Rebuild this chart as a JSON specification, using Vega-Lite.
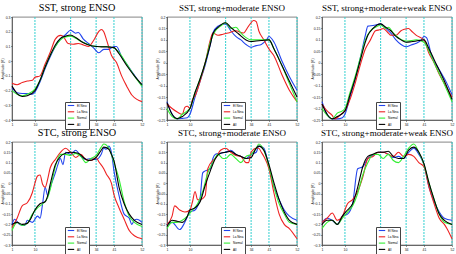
{
  "$schema": "https://vega.github.io/schema/vega-lite/v6.json",
  "background": "white",
  "padding": {"left": 0, "top": 2, "right": 0, "bottom": 0},
  "spacing": -3,
  "config": {
    "view": {"stroke": "#333", "strokeWidth": 0.6},
    "font": "Liberation Sans",
    "title": {"font": "Liberation Serif", "fontWeight": "normal", "color": "black", "fontSize": 10},
    "axis": {"grid": false, "labelFontSize": 3.5, "titleFontSize": 3.5, "titleFontWeight": "normal", "labelColor": "#222", "titleColor": "#222", "domainColor": "#333", "domainWidth": 0.6, "tickColor": "#333", "tickSize": 1.5, "tickWidth": 0.5, "labelPadding": 0.5, "titlePadding": 0.5, "labelOverlap": false, "labelFlush": false},
    "axisY": {"minExtent": 7, "maxExtent": 7},
    "axisX": {"minExtent": 5, "maxExtent": 5},
    "legend": {"title": null, "orient": "none", "symbolType": "M-3.2,0H3.2", "symbolSize": 4, "symbolStrokeWidth": 1.2, "symbolOffset": 2.5, "labelFontSize": 3, "rowPadding": 0.3, "padding": 1.5, "strokeColor": "#444", "fillColor": "white", "labelOffset": 4},
    "line": {"strokeWidth": 1.1, "interpolate": "monotone"},
    "rule": {"color": "#33d0d0", "strokeDash": [2, 1], "strokeWidth": 1}
  },
  "datasets": {
    "seasons": [{"w": 10}, {"w": 24}, {"w": 34}, {"w": 41}, {"w": 52}],
    "curves": [
      {"p":1,"s":"El Nino","w":1,"v":-0.18},{"p":1,"s":"El Nino","w":3,"v":-0.215},{"p":1,"s":"El Nino","w":5,"v":-0.22},{"p":1,"s":"El Nino","w":7,"v":-0.22},{"p":1,"s":"El Nino","w":9,"v":-0.225},{"p":1,"s":"El Nino","w":10,"v":-0.21},{"p":1,"s":"El Nino","w":12,"v":-0.14},{"p":1,"s":"El Nino","w":14,"v":-0.05},{"p":1,"s":"El Nino","w":16,"v":0.03},{"p":1,"s":"El Nino","w":18,"v":0.1},{"p":1,"s":"El Nino","w":20,"v":0.15},{"p":1,"s":"El Nino","w":22,"v":0.18},{"p":1,"s":"El Nino","w":24,"v":0.21},{"p":1,"s":"El Nino","w":25,"v":0.2},{"p":1,"s":"El Nino","w":26,"v":0.19},{"p":1,"s":"El Nino","w":27,"v":0.195},{"p":1,"s":"El Nino","w":29,"v":0.15},{"p":1,"s":"El Nino","w":31,"v":0.12},{"p":1,"s":"El Nino","w":33,"v":0.09},{"p":1,"s":"El Nino","w":35,"v":0.057},{"p":1,"s":"El Nino","w":37,"v":0.08},{"p":1,"s":"El Nino","w":39,"v":0.08},{"p":1,"s":"El Nino","w":41,"v":0.1},{"p":1,"s":"El Nino","w":42,"v":0.1},{"p":1,"s":"El Nino","w":44,"v":0.03},{"p":1,"s":"El Nino","w":46,"v":-0.02},{"p":1,"s":"El Nino","w":48,"v":-0.07},{"p":1,"s":"El Nino","w":50,"v":-0.12},{"p":1,"s":"El Nino","w":52,"v":-0.17},
      {"p":1,"s":"La Nina","w":1,"v":-0.15},{"p":1,"s":"La Nina","w":3,"v":-0.16},{"p":1,"s":"La Nina","w":5,"v":-0.145},{"p":1,"s":"La Nina","w":7,"v":-0.135},{"p":1,"s":"La Nina","w":9,"v":-0.13},{"p":1,"s":"La Nina","w":10,"v":-0.11},{"p":1,"s":"La Nina","w":12,"v":-0.1},{"p":1,"s":"La Nina","w":14,"v":-0.02},{"p":1,"s":"La Nina","w":16,"v":0.06},{"p":1,"s":"La Nina","w":18,"v":0.15},{"p":1,"s":"La Nina","w":20,"v":0.175},{"p":1,"s":"La Nina","w":21,"v":0.17},{"p":1,"s":"La Nina","w":23,"v":0.12},{"p":1,"s":"La Nina","w":25,"v":0.115},{"p":1,"s":"La Nina","w":27,"v":0.12},{"p":1,"s":"La Nina","w":29,"v":0.11},{"p":1,"s":"La Nina","w":31,"v":0.1},{"p":1,"s":"La Nina","w":33,"v":0.14},{"p":1,"s":"La Nina","w":35,"v":0.2},{"p":1,"s":"La Nina","w":36,"v":0.215},{"p":1,"s":"La Nina","w":37,"v":0.2},{"p":1,"s":"La Nina","w":38,"v":0.15},{"p":1,"s":"La Nina","w":40,"v":0.04},{"p":1,"s":"La Nina","w":42,"v":-0.01},{"p":1,"s":"La Nina","w":44,"v":-0.1},{"p":1,"s":"La Nina","w":46,"v":-0.17},{"p":1,"s":"La Nina","w":48,"v":-0.23},{"p":1,"s":"La Nina","w":50,"v":-0.26},{"p":1,"s":"La Nina","w":52,"v":-0.275},
      {"p":1,"s":"Normal","w":1,"v":-0.2},{"p":1,"s":"Normal","w":3,"v":-0.225},{"p":1,"s":"Normal","w":5,"v":-0.235},{"p":1,"s":"Normal","w":7,"v":-0.225},{"p":1,"s":"Normal","w":10,"v":-0.19},{"p":1,"s":"Normal","w":12,"v":-0.13},{"p":1,"s":"Normal","w":14,"v":-0.04},{"p":1,"s":"Normal","w":16,"v":0.04},{"p":1,"s":"Normal","w":18,"v":0.1},{"p":1,"s":"Normal","w":20,"v":0.145},{"p":1,"s":"Normal","w":22,"v":0.165},{"p":1,"s":"Normal","w":24,"v":0.17},{"p":1,"s":"Normal","w":26,"v":0.155},{"p":1,"s":"Normal","w":28,"v":0.135},{"p":1,"s":"Normal","w":30,"v":0.12},{"p":1,"s":"Normal","w":34,"v":0.1},{"p":1,"s":"Normal","w":38,"v":0.1},{"p":1,"s":"Normal","w":41,"v":0.09},{"p":1,"s":"Normal","w":43,"v":0.06},{"p":1,"s":"Normal","w":46,"v":-0.02},{"p":1,"s":"Normal","w":49,"v":-0.1},{"p":1,"s":"Normal","w":52,"v":-0.17},
      {"p":1,"s":"All","w":1,"v":-0.17},{"p":1,"s":"All","w":3,"v":-0.22},{"p":1,"s":"All","w":5,"v":-0.24},{"p":1,"s":"All","w":7,"v":-0.235},{"p":1,"s":"All","w":10,"v":-0.2},{"p":1,"s":"All","w":12,"v":-0.13},{"p":1,"s":"All","w":14,"v":-0.04},{"p":1,"s":"All","w":16,"v":0.04},{"p":1,"s":"All","w":18,"v":0.11},{"p":1,"s":"All","w":20,"v":0.155},{"p":1,"s":"All","w":22,"v":0.17},{"p":1,"s":"All","w":24,"v":0.178},{"p":1,"s":"All","w":26,"v":0.16},{"p":1,"s":"All","w":29,"v":0.125},{"p":1,"s":"All","w":32,"v":0.105},{"p":1,"s":"All","w":34,"v":0.1},{"p":1,"s":"All","w":36,"v":0.097},{"p":1,"s":"All","w":38,"v":0.097},{"p":1,"s":"All","w":41,"v":0.092},{"p":1,"s":"All","w":43,"v":0.05},{"p":1,"s":"All","w":46,"v":-0.03},{"p":1,"s":"All","w":49,"v":-0.1},{"p":1,"s":"All","w":52,"v":-0.16},

      {"p":2,"s":"El Nino","w":1,"v":-0.17},{"p":2,"s":"El Nino","w":3,"v":-0.225},{"p":2,"s":"El Nino","w":5,"v":-0.245},{"p":2,"s":"El Nino","w":7,"v":-0.243},{"p":2,"s":"El Nino","w":9,"v":-0.24},{"p":2,"s":"El Nino","w":10,"v":-0.225},{"p":2,"s":"El Nino","w":12,"v":-0.15},{"p":2,"s":"El Nino","w":14,"v":-0.08},{"p":2,"s":"El Nino","w":16,"v":-0.01},{"p":2,"s":"El Nino","w":18,"v":0.08},{"p":2,"s":"El Nino","w":19,"v":0.13},{"p":2,"s":"El Nino","w":21,"v":0.16},{"p":2,"s":"El Nino","w":23,"v":0.168},{"p":2,"s":"El Nino","w":24,"v":0.17},{"p":2,"s":"El Nino","w":26,"v":0.14},{"p":2,"s":"El Nino","w":28,"v":0.115},{"p":2,"s":"El Nino","w":30,"v":0.1},{"p":2,"s":"El Nino","w":32,"v":0.08},{"p":2,"s":"El Nino","w":34,"v":0.068},{"p":2,"s":"El Nino","w":36,"v":0.075},{"p":2,"s":"El Nino","w":38,"v":0.08},{"p":2,"s":"El Nino","w":40,"v":0.1},{"p":2,"s":"El Nino","w":41,"v":0.115},{"p":2,"s":"El Nino","w":43,"v":0.09},{"p":2,"s":"El Nino","w":46,"v":0.01},{"p":2,"s":"El Nino","w":49,"v":-0.06},{"p":2,"s":"El Nino","w":52,"v":-0.12},
      {"p":2,"s":"La Nina","w":1,"v":-0.18},{"p":2,"s":"La Nina","w":3,"v":-0.2},{"p":2,"s":"La Nina","w":5,"v":-0.215},{"p":2,"s":"La Nina","w":7,"v":-0.225},{"p":2,"s":"La Nina","w":8,"v":-0.195},{"p":2,"s":"La Nina","w":9,"v":-0.19},{"p":2,"s":"La Nina","w":10,"v":-0.2},{"p":2,"s":"La Nina","w":11,"v":-0.16},{"p":2,"s":"La Nina","w":12,"v":-0.145},{"p":2,"s":"La Nina","w":14,"v":-0.08},{"p":2,"s":"La Nina","w":16,"v":0.0},{"p":2,"s":"La Nina","w":18,"v":0.1},{"p":2,"s":"La Nina","w":19,"v":0.13},{"p":2,"s":"La Nina","w":21,"v":0.12},{"p":2,"s":"La Nina","w":23,"v":0.125},{"p":2,"s":"La Nina","w":25,"v":0.13},{"p":2,"s":"La Nina","w":28,"v":0.14},{"p":2,"s":"La Nina","w":31,"v":0.13},{"p":2,"s":"La Nina","w":33,"v":0.16},{"p":2,"s":"La Nina","w":35,"v":0.185},{"p":2,"s":"La Nina","w":36,"v":0.18},{"p":2,"s":"La Nina","w":37,"v":0.14},{"p":2,"s":"La Nina","w":39,"v":0.1},{"p":2,"s":"La Nina","w":41,"v":0.06},{"p":2,"s":"La Nina","w":43,"v":0.03},{"p":2,"s":"La Nina","w":46,"v":-0.05},{"p":2,"s":"La Nina","w":49,"v":-0.12},{"p":2,"s":"La Nina","w":52,"v":-0.17},
      {"p":2,"s":"Normal","w":1,"v":-0.2},{"p":2,"s":"Normal","w":3,"v":-0.235},{"p":2,"s":"Normal","w":5,"v":-0.245},{"p":2,"s":"Normal","w":7,"v":-0.225},{"p":2,"s":"Normal","w":9,"v":-0.21},{"p":2,"s":"Normal","w":10,"v":-0.2},{"p":2,"s":"Normal","w":12,"v":-0.13},{"p":2,"s":"Normal","w":14,"v":-0.07},{"p":2,"s":"Normal","w":16,"v":0.0},{"p":2,"s":"Normal","w":18,"v":0.09},{"p":2,"s":"Normal","w":20,"v":0.14},{"p":2,"s":"Normal","w":22,"v":0.16},{"p":2,"s":"Normal","w":24,"v":0.175},{"p":2,"s":"Normal","w":26,"v":0.15},{"p":2,"s":"Normal","w":28,"v":0.155},{"p":2,"s":"Normal","w":30,"v":0.13},{"p":2,"s":"Normal","w":32,"v":0.11},{"p":2,"s":"Normal","w":34,"v":0.1},{"p":2,"s":"Normal","w":36,"v":0.1},{"p":2,"s":"Normal","w":38,"v":0.1},{"p":2,"s":"Normal","w":41,"v":0.1},{"p":2,"s":"Normal","w":43,"v":0.06},{"p":2,"s":"Normal","w":46,"v":-0.01},{"p":2,"s":"Normal","w":49,"v":-0.09},{"p":2,"s":"Normal","w":52,"v":-0.17},
      {"p":2,"s":"All","w":1,"v":-0.174},{"p":2,"s":"All","w":3,"v":-0.225},{"p":2,"s":"All","w":5,"v":-0.244},{"p":2,"s":"All","w":7,"v":-0.235},{"p":2,"s":"All","w":10,"v":-0.2},{"p":2,"s":"All","w":12,"v":-0.13},{"p":2,"s":"All","w":14,"v":-0.07},{"p":2,"s":"All","w":16,"v":0.0},{"p":2,"s":"All","w":18,"v":0.08},{"p":2,"s":"All","w":19,"v":0.127},{"p":2,"s":"All","w":21,"v":0.155},{"p":2,"s":"All","w":24,"v":0.175},{"p":2,"s":"All","w":26,"v":0.155},{"p":2,"s":"All","w":29,"v":0.127},{"p":2,"s":"All","w":32,"v":0.1},{"p":2,"s":"All","w":34,"v":0.093},{"p":2,"s":"All","w":36,"v":0.095},{"p":2,"s":"All","w":38,"v":0.097},{"p":2,"s":"All","w":41,"v":0.1},{"p":2,"s":"All","w":43,"v":0.06},{"p":2,"s":"All","w":46,"v":-0.01},{"p":2,"s":"All","w":49,"v":-0.08},{"p":2,"s":"All","w":52,"v":-0.15},

      {"p":3,"s":"El Nino","w":1,"v":-0.17},{"p":3,"s":"El Nino","w":3,"v":-0.225},{"p":3,"s":"El Nino","w":5,"v":-0.245},{"p":3,"s":"El Nino","w":7,"v":-0.245},{"p":3,"s":"El Nino","w":9,"v":-0.24},{"p":3,"s":"El Nino","w":10,"v":-0.225},{"p":3,"s":"El Nino","w":12,"v":-0.15},{"p":3,"s":"El Nino","w":14,"v":-0.07},{"p":3,"s":"El Nino","w":16,"v":0.02},{"p":3,"s":"El Nino","w":18,"v":0.12},{"p":3,"s":"El Nino","w":19,"v":0.16},{"p":3,"s":"El Nino","w":21,"v":0.163},{"p":3,"s":"El Nino","w":22,"v":0.165},{"p":3,"s":"El Nino","w":24,"v":0.17},{"p":3,"s":"El Nino","w":26,"v":0.15},{"p":3,"s":"El Nino","w":28,"v":0.13},{"p":3,"s":"El Nino","w":30,"v":0.1},{"p":3,"s":"El Nino","w":32,"v":0.08},{"p":3,"s":"El Nino","w":34,"v":0.07},{"p":3,"s":"El Nino","w":36,"v":0.078},{"p":3,"s":"El Nino","w":38,"v":0.085},{"p":3,"s":"El Nino","w":40,"v":0.1},{"p":3,"s":"El Nino","w":41,"v":0.115},{"p":3,"s":"El Nino","w":42,"v":0.11},{"p":3,"s":"El Nino","w":44,"v":0.03},{"p":3,"s":"El Nino","w":47,"v":-0.03},{"p":3,"s":"El Nino","w":50,"v":-0.09},{"p":3,"s":"El Nino","w":52,"v":-0.14},
      {"p":3,"s":"La Nina","w":1,"v":-0.18},{"p":3,"s":"La Nina","w":3,"v":-0.21},{"p":3,"s":"La Nina","w":5,"v":-0.23},{"p":3,"s":"La Nina","w":6,"v":-0.245},{"p":3,"s":"La Nina","w":8,"v":-0.23},{"p":3,"s":"La Nina","w":9,"v":-0.22},{"p":3,"s":"La Nina","w":10,"v":-0.21},{"p":3,"s":"La Nina","w":12,"v":-0.16},{"p":3,"s":"La Nina","w":14,"v":-0.09},{"p":3,"s":"La Nina","w":16,"v":-0.01},{"p":3,"s":"La Nina","w":18,"v":0.06},{"p":3,"s":"La Nina","w":20,"v":0.1},{"p":3,"s":"La Nina","w":22,"v":0.14},{"p":3,"s":"La Nina","w":24,"v":0.145},{"p":3,"s":"La Nina","w":25,"v":0.15},{"p":3,"s":"La Nina","w":27,"v":0.13},{"p":3,"s":"La Nina","w":28,"v":0.12},{"p":3,"s":"La Nina","w":30,"v":0.12},{"p":3,"s":"La Nina","w":32,"v":0.14},{"p":3,"s":"La Nina","w":33,"v":0.145},{"p":3,"s":"La Nina","w":35,"v":0.15},{"p":3,"s":"La Nina","w":36,"v":0.14},{"p":3,"s":"La Nina","w":38,"v":0.12},{"p":3,"s":"La Nina","w":41,"v":0.1},{"p":3,"s":"La Nina","w":43,"v":0.04},{"p":3,"s":"La Nina","w":45,"v":0.0},{"p":3,"s":"La Nina","w":47,"v":-0.05},{"p":3,"s":"La Nina","w":50,"v":-0.11},{"p":3,"s":"La Nina","w":52,"v":-0.15},
      {"p":3,"s":"Normal","w":1,"v":-0.2},{"p":3,"s":"Normal","w":3,"v":-0.23},{"p":3,"s":"Normal","w":5,"v":-0.245},{"p":3,"s":"Normal","w":7,"v":-0.22},{"p":3,"s":"Normal","w":9,"v":-0.21},{"p":3,"s":"Normal","w":10,"v":-0.2},{"p":3,"s":"Normal","w":12,"v":-0.13},{"p":3,"s":"Normal","w":14,"v":-0.06},{"p":3,"s":"Normal","w":16,"v":0.02},{"p":3,"s":"Normal","w":18,"v":0.1},{"p":3,"s":"Normal","w":20,"v":0.14},{"p":3,"s":"Normal","w":22,"v":0.155},{"p":3,"s":"Normal","w":24,"v":0.165},{"p":3,"s":"Normal","w":26,"v":0.15},{"p":3,"s":"Normal","w":27,"v":0.155},{"p":3,"s":"Normal","w":29,"v":0.13},{"p":3,"s":"Normal","w":31,"v":0.11},{"p":3,"s":"Normal","w":34,"v":0.095},{"p":3,"s":"Normal","w":36,"v":0.097},{"p":3,"s":"Normal","w":38,"v":0.1},{"p":3,"s":"Normal","w":41,"v":0.09},{"p":3,"s":"Normal","w":43,"v":0.05},{"p":3,"s":"Normal","w":45,"v":0.0},{"p":3,"s":"Normal","w":48,"v":-0.07},{"p":3,"s":"Normal","w":52,"v":-0.17},
      {"p":3,"s":"All","w":1,"v":-0.18},{"p":3,"s":"All","w":3,"v":-0.225},{"p":3,"s":"All","w":5,"v":-0.245},{"p":3,"s":"All","w":7,"v":-0.235},{"p":3,"s":"All","w":10,"v":-0.21},{"p":3,"s":"All","w":12,"v":-0.14},{"p":3,"s":"All","w":14,"v":-0.07},{"p":3,"s":"All","w":16,"v":0.01},{"p":3,"s":"All","w":18,"v":0.09},{"p":3,"s":"All","w":19,"v":0.12},{"p":3,"s":"All","w":21,"v":0.15},{"p":3,"s":"All","w":24,"v":0.17},{"p":3,"s":"All","w":26,"v":0.155},{"p":3,"s":"All","w":28,"v":0.14},{"p":3,"s":"All","w":30,"v":0.115},{"p":3,"s":"All","w":32,"v":0.1},{"p":3,"s":"All","w":34,"v":0.09},{"p":3,"s":"All","w":36,"v":0.092},{"p":3,"s":"All","w":38,"v":0.095},{"p":3,"s":"All","w":41,"v":0.1},{"p":3,"s":"All","w":43,"v":0.06},{"p":3,"s":"All","w":46,"v":-0.01},{"p":3,"s":"All","w":49,"v":-0.08},{"p":3,"s":"All","w":52,"v":-0.16},

      {"p":4,"s":"El Nino","w":1,"v":-0.2},{"p":4,"s":"El Nino","w":2,"v":-0.175},{"p":4,"s":"El Nino","w":4,"v":-0.2},{"p":4,"s":"El Nino","w":6,"v":-0.205},{"p":4,"s":"El Nino","w":7,"v":-0.18},{"p":4,"s":"El Nino","w":9,"v":-0.19},{"p":4,"s":"El Nino","w":11,"v":-0.16},{"p":4,"s":"El Nino","w":12,"v":-0.17},{"p":4,"s":"El Nino","w":13,"v":-0.1},{"p":4,"s":"El Nino","w":14,"v":-0.02},{"p":4,"s":"El Nino","w":15,"v":-0.06},{"p":4,"s":"El Nino","w":16,"v":-0.02},{"p":4,"s":"El Nino","w":18,"v":0.05},{"p":4,"s":"El Nino","w":19,"v":0.09},{"p":4,"s":"El Nino","w":20,"v":0.12},{"p":4,"s":"El Nino","w":21,"v":0.09},{"p":4,"s":"El Nino","w":22,"v":0.15},{"p":4,"s":"El Nino","w":24,"v":0.14},{"p":4,"s":"El Nino","w":26,"v":0.16},{"p":4,"s":"El Nino","w":28,"v":0.13},{"p":4,"s":"El Nino","w":30,"v":0.115},{"p":4,"s":"El Nino","w":32,"v":0.12},{"p":4,"s":"El Nino","w":34,"v":0.115},{"p":4,"s":"El Nino","w":36,"v":0.14},{"p":4,"s":"El Nino","w":37,"v":0.17},{"p":4,"s":"El Nino","w":38,"v":0.165},{"p":4,"s":"El Nino","w":39,"v":0.18},{"p":4,"s":"El Nino","w":40,"v":0.15},{"p":4,"s":"El Nino","w":41,"v":0.06},{"p":4,"s":"El Nino","w":43,"v":-0.06},{"p":4,"s":"El Nino","w":45,"v":-0.15},{"p":4,"s":"El Nino","w":47,"v":-0.17},{"p":4,"s":"El Nino","w":48,"v":-0.2},{"p":4,"s":"El Nino","w":49,"v":-0.18},{"p":4,"s":"El Nino","w":50,"v":-0.175},{"p":4,"s":"El Nino","w":52,"v":-0.19},
      {"p":4,"s":"La Nina","w":1,"v":-0.215},{"p":4,"s":"La Nina","w":3,"v":-0.17},{"p":4,"s":"La Nina","w":5,"v":-0.11},{"p":4,"s":"La Nina","w":7,"v":-0.095},{"p":4,"s":"La Nina","w":9,"v":-0.045},{"p":4,"s":"La Nina","w":10,"v":0.0},{"p":4,"s":"La Nina","w":11,"v":0.035},{"p":4,"s":"La Nina","w":12,"v":0.04},{"p":4,"s":"La Nina","w":13,"v":-0.005},{"p":4,"s":"La Nina","w":14,"v":-0.02},{"p":4,"s":"La Nina","w":15,"v":0.02},{"p":4,"s":"La Nina","w":16,"v":0.075},{"p":4,"s":"La Nina","w":18,"v":0.115},{"p":4,"s":"La Nina","w":20,"v":0.15},{"p":4,"s":"La Nina","w":22,"v":0.17},{"p":4,"s":"La Nina","w":24,"v":0.15},{"p":4,"s":"La Nina","w":26,"v":0.125},{"p":4,"s":"La Nina","w":28,"v":0.14},{"p":4,"s":"La Nina","w":30,"v":0.115},{"p":4,"s":"La Nina","w":32,"v":0.11},{"p":4,"s":"La Nina","w":34,"v":0.125},{"p":4,"s":"La Nina","w":35,"v":0.105},{"p":4,"s":"La Nina","w":37,"v":0.07},{"p":4,"s":"La Nina","w":38,"v":0.045},{"p":4,"s":"La Nina","w":40,"v":0.0},{"p":4,"s":"La Nina","w":41,"v":-0.055},{"p":4,"s":"La Nina","w":43,"v":-0.12},{"p":4,"s":"La Nina","w":45,"v":-0.175},{"p":4,"s":"La Nina","w":47,"v":-0.23},{"p":4,"s":"La Nina","w":49,"v":-0.255},{"p":4,"s":"La Nina","w":52,"v":-0.27},
      {"p":4,"s":"Normal","w":1,"v":-0.23},{"p":4,"s":"Normal","w":3,"v":-0.19},{"p":4,"s":"Normal","w":5,"v":-0.205},{"p":4,"s":"Normal","w":7,"v":-0.195},{"p":4,"s":"Normal","w":9,"v":-0.15},{"p":4,"s":"Normal","w":11,"v":-0.12},{"p":4,"s":"Normal","w":13,"v":-0.1},{"p":4,"s":"Normal","w":15,"v":-0.07},{"p":4,"s":"Normal","w":16,"v":-0.03},{"p":4,"s":"Normal","w":18,"v":0.08},{"p":4,"s":"Normal","w":20,"v":0.14},{"p":4,"s":"Normal","w":22,"v":0.14},{"p":4,"s":"Normal","w":24,"v":0.135},{"p":4,"s":"Normal","w":26,"v":0.145},{"p":4,"s":"Normal","w":28,"v":0.13},{"p":4,"s":"Normal","w":30,"v":0.1},{"p":4,"s":"Normal","w":32,"v":0.12},{"p":4,"s":"Normal","w":34,"v":0.135},{"p":4,"s":"Normal","w":36,"v":0.175},{"p":4,"s":"Normal","w":37,"v":0.19},{"p":4,"s":"Normal","w":39,"v":0.17},{"p":4,"s":"Normal","w":41,"v":0.1},{"p":4,"s":"Normal","w":43,"v":0.02},{"p":4,"s":"Normal","w":45,"v":-0.09},{"p":4,"s":"Normal","w":47,"v":-0.16},{"p":4,"s":"Normal","w":49,"v":-0.19},{"p":4,"s":"Normal","w":52,"v":-0.21},
      {"p":4,"s":"All","w":1,"v":-0.2},{"p":4,"s":"All","w":3,"v":-0.19},{"p":4,"s":"All","w":5,"v":-0.2},{"p":4,"s":"All","w":7,"v":-0.195},{"p":4,"s":"All","w":8,"v":-0.18},{"p":4,"s":"All","w":10,"v":-0.13},{"p":4,"s":"All","w":12,"v":-0.1},{"p":4,"s":"All","w":14,"v":-0.09},{"p":4,"s":"All","w":15,"v":-0.06},{"p":4,"s":"All","w":16,"v":-0.005},{"p":4,"s":"All","w":18,"v":0.09},{"p":4,"s":"All","w":20,"v":0.13},{"p":4,"s":"All","w":21,"v":0.14},{"p":4,"s":"All","w":24,"v":0.15},{"p":4,"s":"All","w":27,"v":0.145},{"p":4,"s":"All","w":29,"v":0.125},{"p":4,"s":"All","w":31,"v":0.11},{"p":4,"s":"All","w":33,"v":0.115},{"p":4,"s":"All","w":34,"v":0.125},{"p":4,"s":"All","w":36,"v":0.16},{"p":4,"s":"All","w":37,"v":0.175},{"p":4,"s":"All","w":39,"v":0.165},{"p":4,"s":"All","w":40,"v":0.14},{"p":4,"s":"All","w":41,"v":0.11},{"p":4,"s":"All","w":43,"v":-0.02},{"p":4,"s":"All","w":45,"v":-0.1},{"p":4,"s":"All","w":47,"v":-0.15},{"p":4,"s":"All","w":49,"v":-0.18},{"p":4,"s":"All","w":52,"v":-0.2},

      {"p":5,"s":"El Nino","w":1,"v":-0.2},{"p":5,"s":"El Nino","w":3,"v":-0.19},{"p":5,"s":"El Nino","w":6,"v":-0.225},{"p":5,"s":"El Nino","w":8,"v":-0.19},{"p":5,"s":"El Nino","w":10,"v":-0.14},{"p":5,"s":"El Nino","w":12,"v":-0.13},{"p":5,"s":"El Nino","w":14,"v":-0.07},{"p":5,"s":"El Nino","w":15,"v":0.05},{"p":5,"s":"El Nino","w":16,"v":0.06},{"p":5,"s":"El Nino","w":18,"v":0.07},{"p":5,"s":"El Nino","w":19,"v":0.12},{"p":5,"s":"El Nino","w":20,"v":0.14},{"p":5,"s":"El Nino","w":22,"v":0.145},{"p":5,"s":"El Nino","w":24,"v":0.15},{"p":5,"s":"El Nino","w":26,"v":0.16},{"p":5,"s":"El Nino","w":28,"v":0.14},{"p":5,"s":"El Nino","w":30,"v":0.13},{"p":5,"s":"El Nino","w":32,"v":0.12},{"p":5,"s":"El Nino","w":34,"v":0.14},{"p":5,"s":"El Nino","w":36,"v":0.15},{"p":5,"s":"El Nino","w":37,"v":0.18},{"p":5,"s":"El Nino","w":39,"v":0.17},{"p":5,"s":"El Nino","w":41,"v":0.08},{"p":5,"s":"El Nino","w":43,"v":-0.02},{"p":5,"s":"El Nino","w":45,"v":-0.08},{"p":5,"s":"El Nino","w":47,"v":-0.13},{"p":5,"s":"El Nino","w":49,"v":-0.16},{"p":5,"s":"El Nino","w":52,"v":-0.18},
      {"p":5,"s":"La Nina","w":1,"v":-0.2},{"p":5,"s":"La Nina","w":3,"v":-0.16},{"p":5,"s":"La Nina","w":4,"v":-0.11},{"p":5,"s":"La Nina","w":6,"v":-0.13},{"p":5,"s":"La Nina","w":8,"v":-0.14},{"p":5,"s":"La Nina","w":10,"v":-0.13},{"p":5,"s":"La Nina","w":11,"v":-0.09},{"p":5,"s":"La Nina","w":12,"v":-0.04},{"p":5,"s":"La Nina","w":13,"v":-0.08},{"p":5,"s":"La Nina","w":14,"v":-0.08},{"p":5,"s":"La Nina","w":16,"v":-0.06},{"p":5,"s":"La Nina","w":17,"v":0.07},{"p":5,"s":"La Nina","w":19,"v":0.11},{"p":5,"s":"La Nina","w":20,"v":0.12},{"p":5,"s":"La Nina","w":22,"v":0.16},{"p":5,"s":"La Nina","w":24,"v":0.17},{"p":5,"s":"La Nina","w":26,"v":0.15},{"p":5,"s":"La Nina","w":28,"v":0.135},{"p":5,"s":"La Nina","w":30,"v":0.13},{"p":5,"s":"La Nina","w":32,"v":0.1},{"p":5,"s":"La Nina","w":33,"v":0.1},{"p":5,"s":"La Nina","w":34,"v":0.15},{"p":5,"s":"La Nina","w":36,"v":0.17},{"p":5,"s":"La Nina","w":37,"v":0.17},{"p":5,"s":"La Nina","w":38,"v":0.15},{"p":5,"s":"La Nina","w":39,"v":0.13},{"p":5,"s":"La Nina","w":41,"v":0.07},{"p":5,"s":"La Nina","w":43,"v":-0.05},{"p":5,"s":"La Nina","w":45,"v":-0.15},{"p":5,"s":"La Nina","w":47,"v":-0.2},{"p":5,"s":"La Nina","w":49,"v":-0.22},{"p":5,"s":"La Nina","w":52,"v":-0.27},
      {"p":5,"s":"Normal","w":1,"v":-0.22},{"p":5,"s":"Normal","w":3,"v":-0.19},{"p":5,"s":"Normal","w":5,"v":-0.19},{"p":5,"s":"Normal","w":7,"v":-0.18},{"p":5,"s":"Normal","w":9,"v":-0.16},{"p":5,"s":"Normal","w":11,"v":-0.13},{"p":5,"s":"Normal","w":13,"v":-0.1},{"p":5,"s":"Normal","w":15,"v":-0.04},{"p":5,"s":"Normal","w":17,"v":0.05},{"p":5,"s":"Normal","w":19,"v":0.1},{"p":5,"s":"Normal","w":21,"v":0.14},{"p":5,"s":"Normal","w":23,"v":0.12},{"p":5,"s":"Normal","w":24,"v":0.12},{"p":5,"s":"Normal","w":26,"v":0.14},{"p":5,"s":"Normal","w":28,"v":0.12},{"p":5,"s":"Normal","w":30,"v":0.1},{"p":5,"s":"Normal","w":32,"v":0.13},{"p":5,"s":"Normal","w":34,"v":0.14},{"p":5,"s":"Normal","w":36,"v":0.17},{"p":5,"s":"Normal","w":37,"v":0.19},{"p":5,"s":"Normal","w":39,"v":0.16},{"p":5,"s":"Normal","w":41,"v":0.08},{"p":5,"s":"Normal","w":43,"v":-0.02},{"p":5,"s":"Normal","w":45,"v":-0.1},{"p":5,"s":"Normal","w":47,"v":-0.15},{"p":5,"s":"Normal","w":49,"v":-0.19},{"p":5,"s":"Normal","w":52,"v":-0.2},
      {"p":5,"s":"All","w":1,"v":-0.21},{"p":5,"s":"All","w":3,"v":-0.18},{"p":5,"s":"All","w":5,"v":-0.185},{"p":5,"s":"All","w":7,"v":-0.19},{"p":5,"s":"All","w":9,"v":-0.16},{"p":5,"s":"All","w":10,"v":-0.13},{"p":5,"s":"All","w":12,"v":-0.12},{"p":5,"s":"All","w":14,"v":-0.09},{"p":5,"s":"All","w":16,"v":-0.01},{"p":5,"s":"All","w":18,"v":0.06},{"p":5,"s":"All","w":20,"v":0.12},{"p":5,"s":"All","w":22,"v":0.145},{"p":5,"s":"All","w":24,"v":0.15},{"p":5,"s":"All","w":26,"v":0.155},{"p":5,"s":"All","w":28,"v":0.14},{"p":5,"s":"All","w":30,"v":0.13},{"p":5,"s":"All","w":32,"v":0.12},{"p":5,"s":"All","w":34,"v":0.125},{"p":5,"s":"All","w":36,"v":0.17},{"p":5,"s":"All","w":37,"v":0.18},{"p":5,"s":"All","w":39,"v":0.16},{"p":5,"s":"All","w":41,"v":0.09},{"p":5,"s":"All","w":43,"v":0.0},{"p":5,"s":"All","w":45,"v":-0.08},{"p":5,"s":"All","w":47,"v":-0.14},{"p":5,"s":"All","w":49,"v":-0.18},{"p":5,"s":"All","w":52,"v":-0.2},

      {"p":6,"s":"El Nino","w":1,"v":-0.19},{"p":6,"s":"El Nino","w":3,"v":-0.17},{"p":6,"s":"El Nino","w":5,"v":-0.18},{"p":6,"s":"El Nino","w":7,"v":-0.2},{"p":6,"s":"El Nino","w":9,"v":-0.16},{"p":6,"s":"El Nino","w":11,"v":-0.15},{"p":6,"s":"El Nino","w":13,"v":-0.1},{"p":6,"s":"El Nino","w":15,"v":0.07},{"p":6,"s":"El Nino","w":17,"v":0.08},{"p":6,"s":"El Nino","w":19,"v":0.12},{"p":6,"s":"El Nino","w":21,"v":0.135},{"p":6,"s":"El Nino","w":23,"v":0.15},{"p":6,"s":"El Nino","w":25,"v":0.15},{"p":6,"s":"El Nino","w":27,"v":0.14},{"p":6,"s":"El Nino","w":29,"v":0.125},{"p":6,"s":"El Nino","w":31,"v":0.13},{"p":6,"s":"El Nino","w":33,"v":0.12},{"p":6,"s":"El Nino","w":35,"v":0.15},{"p":6,"s":"El Nino","w":37,"v":0.17},{"p":6,"s":"El Nino","w":39,"v":0.14},{"p":6,"s":"El Nino","w":41,"v":0.09},{"p":6,"s":"El Nino","w":43,"v":-0.02},{"p":6,"s":"El Nino","w":45,"v":-0.09},{"p":6,"s":"El Nino","w":47,"v":-0.14},{"p":6,"s":"El Nino","w":49,"v":-0.17},{"p":6,"s":"El Nino","w":52,"v":-0.18},
      {"p":6,"s":"La Nina","w":1,"v":-0.19},{"p":6,"s":"La Nina","w":3,"v":-0.17},{"p":6,"s":"La Nina","w":5,"v":-0.145},{"p":6,"s":"La Nina","w":7,"v":-0.18},{"p":6,"s":"La Nina","w":9,"v":-0.16},{"p":6,"s":"La Nina","w":11,"v":-0.1},{"p":6,"s":"La Nina","w":13,"v":-0.08},{"p":6,"s":"La Nina","w":15,"v":-0.04},{"p":6,"s":"La Nina","w":17,"v":0.03},{"p":6,"s":"La Nina","w":19,"v":0.12},{"p":6,"s":"La Nina","w":21,"v":0.13},{"p":6,"s":"La Nina","w":23,"v":0.15},{"p":6,"s":"La Nina","w":25,"v":0.15},{"p":6,"s":"La Nina","w":27,"v":0.14},{"p":6,"s":"La Nina","w":29,"v":0.13},{"p":6,"s":"La Nina","w":31,"v":0.15},{"p":6,"s":"La Nina","w":33,"v":0.13},{"p":6,"s":"La Nina","w":35,"v":0.14},{"p":6,"s":"La Nina","w":37,"v":0.13},{"p":6,"s":"La Nina","w":39,"v":0.1},{"p":6,"s":"La Nina","w":41,"v":0.08},{"p":6,"s":"La Nina","w":43,"v":-0.02},{"p":6,"s":"La Nina","w":45,"v":-0.1},{"p":6,"s":"La Nina","w":47,"v":-0.17},{"p":6,"s":"La Nina","w":49,"v":-0.2},{"p":6,"s":"La Nina","w":50,"v":-0.22},{"p":6,"s":"La Nina","w":52,"v":-0.27},
      {"p":6,"s":"Normal","w":1,"v":-0.22},{"p":6,"s":"Normal","w":3,"v":-0.19},{"p":6,"s":"Normal","w":5,"v":-0.18},{"p":6,"s":"Normal","w":7,"v":-0.2},{"p":6,"s":"Normal","w":9,"v":-0.17},{"p":6,"s":"Normal","w":11,"v":-0.14},{"p":6,"s":"Normal","w":13,"v":-0.11},{"p":6,"s":"Normal","w":15,"v":-0.05},{"p":6,"s":"Normal","w":17,"v":0.04},{"p":6,"s":"Normal","w":19,"v":0.1},{"p":6,"s":"Normal","w":21,"v":0.14},{"p":6,"s":"Normal","w":23,"v":0.14},{"p":6,"s":"Normal","w":25,"v":0.12},{"p":6,"s":"Normal","w":27,"v":0.14},{"p":6,"s":"Normal","w":29,"v":0.11},{"p":6,"s":"Normal","w":31,"v":0.1},{"p":6,"s":"Normal","w":33,"v":0.13},{"p":6,"s":"Normal","w":35,"v":0.17},{"p":6,"s":"Normal","w":37,"v":0.19},{"p":6,"s":"Normal","w":39,"v":0.15},{"p":6,"s":"Normal","w":41,"v":0.09},{"p":6,"s":"Normal","w":43,"v":0.0},{"p":6,"s":"Normal","w":45,"v":-0.08},{"p":6,"s":"Normal","w":47,"v":-0.15},{"p":6,"s":"Normal","w":49,"v":-0.19},{"p":6,"s":"Normal","w":52,"v":-0.2},
      {"p":6,"s":"All","w":1,"v":-0.2},{"p":6,"s":"All","w":3,"v":-0.18},{"p":6,"s":"All","w":5,"v":-0.18},{"p":6,"s":"All","w":7,"v":-0.2},{"p":6,"s":"All","w":9,"v":-0.16},{"p":6,"s":"All","w":11,"v":-0.13},{"p":6,"s":"All","w":13,"v":-0.1},{"p":6,"s":"All","w":15,"v":-0.02},{"p":6,"s":"All","w":17,"v":0.08},{"p":6,"s":"All","w":19,"v":0.13},{"p":6,"s":"All","w":21,"v":0.14},{"p":6,"s":"All","w":23,"v":0.15},{"p":6,"s":"All","w":25,"v":0.15},{"p":6,"s":"All","w":27,"v":0.155},{"p":6,"s":"All","w":29,"v":0.13},{"p":6,"s":"All","w":31,"v":0.12},{"p":6,"s":"All","w":33,"v":0.12},{"p":6,"s":"All","w":35,"v":0.16},{"p":6,"s":"All","w":37,"v":0.175},{"p":6,"s":"All","w":39,"v":0.15},{"p":6,"s":"All","w":41,"v":0.095},{"p":6,"s":"All","w":43,"v":0.0},{"p":6,"s":"All","w":45,"v":-0.08},{"p":6,"s":"All","w":47,"v":-0.15},{"p":6,"s":"All","w":49,"v":-0.18},{"p":6,"s":"All","w":52,"v":-0.2}
    ]
  },
  "resolve": {"legend": {"color": "independent"}},
  "vconcat": [
    {
      "spacing": 10,
      "resolve": {"legend": {"color": "independent"}, "scale": {"y": "independent"}},
      "hconcat": [
        {
          "width": 130, "height": 103,
          "title": {"text": "SST, strong ENSO", "fontSize": 10.2, "offset": 2},
          "layer": [
            {"data": {"name": "seasons"}, "mark": "rule",
             "encoding": {"x": {"field": "w", "type": "quantitative", "scale": {"domain": [1, 52], "nice": false, "zero": false}, "axis": {"values": [1, 10, 24, 34, 41, 52], "title": "time (weeks)"}}}},
            {"data": {"name": "curves"}, "transform": [{"filter": "datum.p == 1"}], "mark": "line",
             "encoding": {
               "x": {"field": "w", "type": "quantitative", "scale": {"domain": [1, 52], "nice": false, "zero": false}, "axis": {"values": [1, 10, 24, 34, 41, 52], "title": "time (weeks)"}},
               "y": {"field": "v", "type": "quantitative", "scale": {"domain": [-0.4, 0.3], "nice": false, "zero": false}, "axis": {"values": [-0.4, -0.3, -0.2, -0.1, 0, 0.1, 0.2, 0.3], "format": "~g", "title": "Amplitude (K)"}},
               "color": {"field": "s", "type": "nominal", "scale": {"domain": ["El Nino", "La Nina", "Normal", "All"], "range": ["#2244ee", "#ee2222", "#33ee33", "#000000"]},
                 "legend": {"legendX": 53, "legendY": 85}}
             }}
          ]
        },
        {
          "width": 130, "height": 103,
          "title": {"text": "SST, strong+moderate ENSO", "fontSize": 9, "offset": 2},
          "layer": [
            {"data": {"name": "seasons"}, "mark": "rule",
             "encoding": {"x": {"field": "w", "type": "quantitative", "scale": {"domain": [1, 52], "nice": false, "zero": false}, "axis": {"values": [1, 10, 24, 34, 41, 52], "title": "time (weeks)"}}}},
            {"data": {"name": "curves"}, "transform": [{"filter": "datum.p == 2"}], "mark": "line",
             "encoding": {
               "x": {"field": "w", "type": "quantitative", "scale": {"domain": [1, 52], "nice": false, "zero": false}, "axis": {"values": [1, 10, 24, 34, 41, 52], "title": "time (weeks)"}},
               "y": {"field": "v", "type": "quantitative", "scale": {"domain": [-0.25, 0.2], "nice": false, "zero": false}, "axis": {"values": [-0.25, -0.2, -0.15, -0.1, -0.05, 0, 0.05, 0.1, 0.15, 0.2], "format": "~g", "title": "Amplitude (K)"}},
               "color": {"field": "s", "type": "nominal", "scale": {"domain": ["El Nino", "La Nina", "Normal", "All"], "range": ["#2244ee", "#ee2222", "#33ee33", "#000000"]},
                 "legend": {"legendX": 54, "legendY": 85}}
             }}
          ]
        },
        {
          "width": 130, "height": 103,
          "title": {"text": "SST, strong+moderate+weak ENSO", "fontSize": 9, "offset": 2},
          "layer": [
            {"data": {"name": "seasons"}, "mark": "rule",
             "encoding": {"x": {"field": "w", "type": "quantitative", "scale": {"domain": [1, 52], "nice": false, "zero": false}, "axis": {"values": [1, 10, 24, 34, 41, 52], "title": "time (weeks)"}}}},
            {"data": {"name": "curves"}, "transform": [{"filter": "datum.p == 3"}], "mark": "line",
             "encoding": {
               "x": {"field": "w", "type": "quantitative", "scale": {"domain": [1, 52], "nice": false, "zero": false}, "axis": {"values": [1, 10, 24, 34, 41, 52], "title": "time (weeks)"}},
               "y": {"field": "v", "type": "quantitative", "scale": {"domain": [-0.25, 0.2], "nice": false, "zero": false}, "axis": {"values": [-0.25, -0.2, -0.15, -0.1, -0.05, 0, 0.05, 0.1, 0.15, 0.2], "format": "~g", "title": "Amplitude (K)"}},
               "color": {"field": "s", "type": "nominal", "scale": {"domain": ["El Nino", "La Nina", "Normal", "All"], "range": ["#2244ee", "#ee2222", "#33ee33", "#000000"]},
                 "legend": {"legendX": 54, "legendY": 85}}
             }}
          ]
        }
      ]
    },
    {
      "spacing": 10,
      "resolve": {"legend": {"color": "independent"}, "scale": {"y": "independent"}},
      "hconcat": [
        {
          "width": 130, "height": 103,
          "title": {"text": "STC, strong ENSO", "fontSize": 10.2, "offset": 2},
          "layer": [
            {"data": {"name": "seasons"}, "mark": "rule",
             "encoding": {"x": {"field": "w", "type": "quantitative", "scale": {"domain": [1, 52], "nice": false, "zero": false}, "axis": {"values": [1, 10, 24, 34, 41, 52], "title": "time (weeks)"}}}},
            {"data": {"name": "curves"}, "transform": [{"filter": "datum.p == 4"}], "mark": "line",
             "encoding": {
               "x": {"field": "w", "type": "quantitative", "scale": {"domain": [1, 52], "nice": false, "zero": false}, "axis": {"values": [1, 10, 24, 34, 41, 52], "title": "time (weeks)"}},
               "y": {"field": "v", "type": "quantitative", "scale": {"domain": [-0.3, 0.2], "nice": false, "zero": false}, "axis": {"values": [-0.3, -0.25, -0.2, -0.15, -0.1, -0.05, 0, 0.05, 0.1, 0.15, 0.2], "format": "~g", "title": "Amplitude (K)"}},
               "color": {"field": "s", "type": "nominal", "scale": {"domain": ["El Nino", "La Nina", "Normal", "All"], "range": ["#2244ee", "#ee2222", "#33ee33", "#000000"]},
                 "legend": {"legendX": 53, "legendY": 85}}
             }}
          ]
        },
        {
          "width": 130, "height": 103,
          "title": {"text": "STC, strong+moderate ENSO", "fontSize": 9, "offset": 2},
          "layer": [
            {"data": {"name": "seasons"}, "mark": "rule",
             "encoding": {"x": {"field": "w", "type": "quantitative", "scale": {"domain": [1, 52], "nice": false, "zero": false}, "axis": {"values": [1, 10, 24, 34, 41, 52], "title": "time (weeks)"}}}},
            {"data": {"name": "curves"}, "transform": [{"filter": "datum.p == 5"}], "mark": "line",
             "encoding": {
               "x": {"field": "w", "type": "quantitative", "scale": {"domain": [1, 52], "nice": false, "zero": false}, "axis": {"values": [1, 10, 24, 34, 41, 52], "title": "time (weeks)"}},
               "y": {"field": "v", "type": "quantitative", "scale": {"domain": [-0.3, 0.2], "nice": false, "zero": false}, "axis": {"values": [-0.3, -0.25, -0.2, -0.15, -0.1, -0.05, 0, 0.05, 0.1, 0.15, 0.2], "format": "~g", "title": "Amplitude (K)"}},
               "color": {"field": "s", "type": "nominal", "scale": {"domain": ["El Nino", "La Nina", "Normal", "All"], "range": ["#2244ee", "#ee2222", "#33ee33", "#000000"]},
                 "legend": {"legendX": 54, "legendY": 85}}
             }}
          ]
        },
        {
          "width": 130, "height": 103,
          "title": {"text": "STC, strong+moderate+weak ENSO", "fontSize": 9, "offset": 2},
          "layer": [
            {"data": {"name": "seasons"}, "mark": "rule",
             "encoding": {"x": {"field": "w", "type": "quantitative", "scale": {"domain": [1, 52], "nice": false, "zero": false}, "axis": {"values": [1, 10, 24, 34, 41, 52], "title": "time (weeks)"}}}},
            {"data": {"name": "curves"}, "transform": [{"filter": "datum.p == 6"}], "mark": "line",
             "encoding": {
               "x": {"field": "w", "type": "quantitative", "scale": {"domain": [1, 52], "nice": false, "zero": false}, "axis": {"values": [1, 10, 24, 34, 41, 52], "title": "time (weeks)"}},
               "y": {"field": "v", "type": "quantitative", "scale": {"domain": [-0.3, 0.2], "nice": false, "zero": false}, "axis": {"values": [-0.3, -0.25, -0.2, -0.15, -0.1, -0.05, 0, 0.05, 0.1, 0.15, 0.2], "format": "~g", "title": "Amplitude (K)"}},
               "color": {"field": "s", "type": "nominal", "scale": {"domain": ["El Nino", "La Nina", "Normal", "All"], "range": ["#2244ee", "#ee2222", "#33ee33", "#000000"]},
                 "legend": {"legendX": 54, "legendY": 85}}
             }}
          ]
        }
      ]
    }
  ]
}
